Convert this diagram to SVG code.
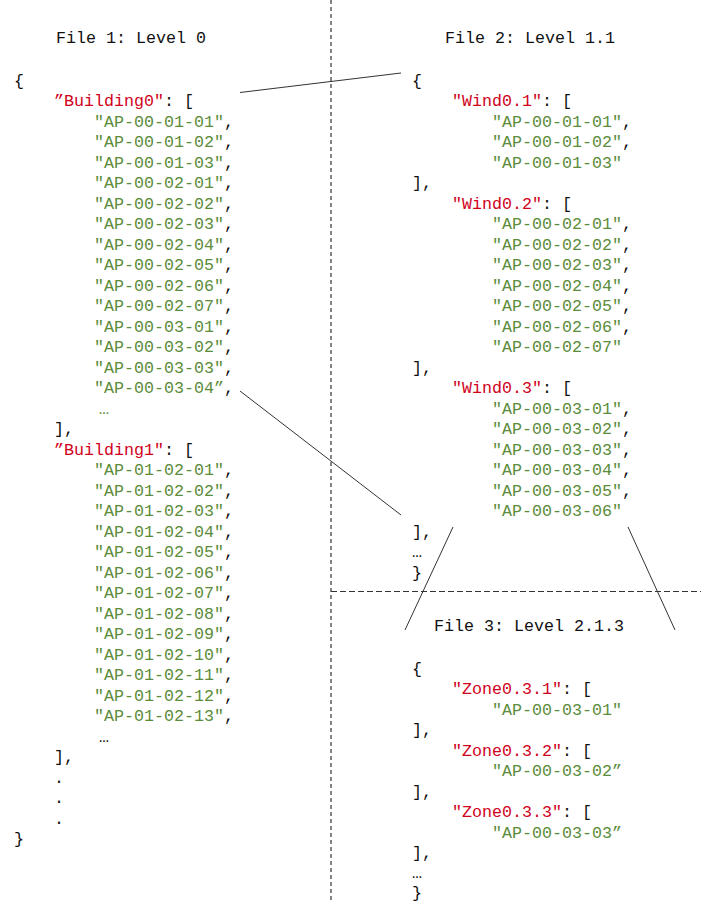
<svg xmlns="http://www.w3.org/2000/svg" width="701" height="902" viewBox="0 0 701 902">
<style>
text{font-family:"Liberation Mono","DejaVu Sans Mono",monospace;font-size:16.67px;fill:#111;white-space:pre}
.k{fill:#d0021b}
.v{fill:#5b8c3a}
.sep{stroke:#333;stroke-width:1.2;stroke-dasharray:4 3;fill:none}
.sep2{stroke:#333;stroke-width:1.2;stroke-dasharray:6 3;fill:none}
.c{stroke:#333;stroke-width:1;fill:none}
</style>
<rect width="701" height="902" fill="#fff"/>
<g id="separators">
<line class="sep" x1="331" y1="0" x2="331" y2="902"/>
<line class="sep2" x1="331" y1="591.5" x2="701" y2="591.5"/>
</g>
<g id="file1">
<text x="56" y="43">File 1: Level 0</text>
<text x="14" y="85.5">{</text>
<text x="54" y="106"><tspan class="k">”Building0"</tspan>: [</text>
<text x="94" y="126.5"><tspan class="v">"AP-00-01-01"</tspan>,</text>
<text x="94" y="147"><tspan class="v">"AP-00-01-02"</tspan>,</text>
<text x="94" y="167.5"><tspan class="v">"AP-00-01-03"</tspan>,</text>
<text x="94" y="188"><tspan class="v">"AP-00-02-01"</tspan>,</text>
<text x="94" y="208.5"><tspan class="v">"AP-00-02-02"</tspan>,</text>
<text x="94" y="229"><tspan class="v">"AP-00-02-03"</tspan>,</text>
<text x="94" y="249.5"><tspan class="v">"AP-00-02-04"</tspan>,</text>
<text x="94" y="270"><tspan class="v">"AP-00-02-05"</tspan>,</text>
<text x="94" y="290.5"><tspan class="v">"AP-00-02-06"</tspan>,</text>
<text x="94" y="311"><tspan class="v">"AP-00-02-07"</tspan>,</text>
<text x="94" y="331.5"><tspan class="v">"AP-00-03-01"</tspan>,</text>
<text x="94" y="352"><tspan class="v">"AP-00-03-02"</tspan>,</text>
<text x="94" y="372.5"><tspan class="v">"AP-00-03-03"</tspan>,</text>
<text x="94" y="393"><tspan class="v">"AP-00-03-04”</tspan>,</text>
<text x="99" y="413.5" class="v">…</text>
<text x="54" y="434">],</text>
<text x="54" y="454.5"><tspan class="k">”Building1"</tspan>: [</text>
<text x="94" y="475"><tspan class="v">"AP-01-02-01"</tspan>,</text>
<text x="94" y="495.5"><tspan class="v">"AP-01-02-02"</tspan>,</text>
<text x="94" y="516"><tspan class="v">"AP-01-02-03"</tspan>,</text>
<text x="94" y="536.5"><tspan class="v">"AP-01-02-04"</tspan>,</text>
<text x="94" y="557"><tspan class="v">"AP-01-02-05"</tspan>,</text>
<text x="94" y="577.5"><tspan class="v">"AP-01-02-06"</tspan>,</text>
<text x="94" y="598"><tspan class="v">"AP-01-02-07"</tspan>,</text>
<text x="94" y="618.5"><tspan class="v">"AP-01-02-08"</tspan>,</text>
<text x="94" y="639"><tspan class="v">"AP-01-02-09"</tspan>,</text>
<text x="94" y="659.5"><tspan class="v">"AP-01-02-10"</tspan>,</text>
<text x="94" y="680"><tspan class="v">"AP-01-02-11"</tspan>,</text>
<text x="94" y="700.5"><tspan class="v">"AP-01-02-12"</tspan>,</text>
<text x="94" y="721"><tspan class="v">"AP-01-02-13"</tspan>,</text>
<text x="99" y="741.5">…</text>
<text x="54" y="762">],</text>
<text x="54" y="782.5">.</text>
<text x="54" y="803">.</text>
<text x="54" y="823.5">.</text>
<text x="14" y="844">}</text>
</g>
<g id="file2">
<text x="445" y="43">File 2: Level 1.1</text>
<text x="412" y="85.5">{</text>
<text x="452" y="106"><tspan class="k">"Wind0.1"</tspan>: [</text>
<text x="492" y="126.5" class="v">"AP-00-01-01"<tspan fill="#111">,</tspan></text>
<text x="492" y="147" class="v">"AP-00-01-02"<tspan fill="#111">,</tspan></text>
<text x="492" y="167.5" class="v">"AP-00-01-03"</text>
<text x="412" y="188">],</text>
<text x="452" y="208.5"><tspan class="k">"Wind0.2"</tspan>: [</text>
<text x="492" y="229" class="v">"AP-00-02-01"<tspan fill="#111">,</tspan></text>
<text x="492" y="249.5" class="v">"AP-00-02-02"<tspan fill="#111">,</tspan></text>
<text x="492" y="270" class="v">"AP-00-02-03"<tspan fill="#111">,</tspan></text>
<text x="492" y="290.5" class="v">"AP-00-02-04"<tspan fill="#111">,</tspan></text>
<text x="492" y="311" class="v">"AP-00-02-05"<tspan fill="#111">,</tspan></text>
<text x="492" y="331.5" class="v">"AP-00-02-06"<tspan fill="#111">,</tspan></text>
<text x="492" y="352" class="v">"AP-00-02-07"</text>
<text x="412" y="372.5">],</text>
<text x="452" y="393"><tspan class="k">"Wind0.3"</tspan>: [</text>
<text x="492" y="413.5" class="v">"AP-00-03-01"<tspan fill="#111">,</tspan></text>
<text x="492" y="434" class="v">"AP-00-03-02"<tspan fill="#111">,</tspan></text>
<text x="492" y="454.5" class="v">"AP-00-03-03"<tspan fill="#111">,</tspan></text>
<text x="492" y="475" class="v">"AP-00-03-04"<tspan fill="#111">,</tspan></text>
<text x="492" y="495.5" class="v">"AP-00-03-05"<tspan fill="#111">,</tspan></text>
<text x="492" y="516" class="v">"AP-00-03-06"</text>
<text x="412" y="536.5">],</text>
<text x="412" y="557">…</text>
<text x="412" y="577.5">}</text>
</g>
<g id="file3">
<text x="434" y="631">File 3: Level 2.1.3</text>
<text x="412" y="673.5">{</text>
<text x="452" y="694"><tspan class="k">"Zone0.3.1"</tspan>: [</text>
<text x="492" y="714.5" class="v">"AP-00-03-01"</text>
<text x="412" y="735">],</text>
<text x="452" y="755.5"><tspan class="k">"Zone0.3.2"</tspan>: [</text>
<text x="492" y="776" class="v">"AP-00-03-02”</text>
<text x="412" y="796.5">],</text>
<text x="452" y="817"><tspan class="k">"Zone0.3.3"</tspan>: [</text>
<text x="492" y="837.5" class="v">"AP-00-03-03”</text>
<text x="412" y="858">],</text>
<text x="412" y="878">…</text>
<text x="412" y="898">}</text>
</g>
<g id="connectors">
<line class="c" x1="240" y1="92.5" x2="401" y2="73"/>
<line class="c" x1="240" y1="391" x2="401" y2="515"/>
<line class="c" x1="453" y1="527" x2="405" y2="630"/>
<line class="c" x1="628" y1="527" x2="675" y2="630"/>
</g>
</svg>
